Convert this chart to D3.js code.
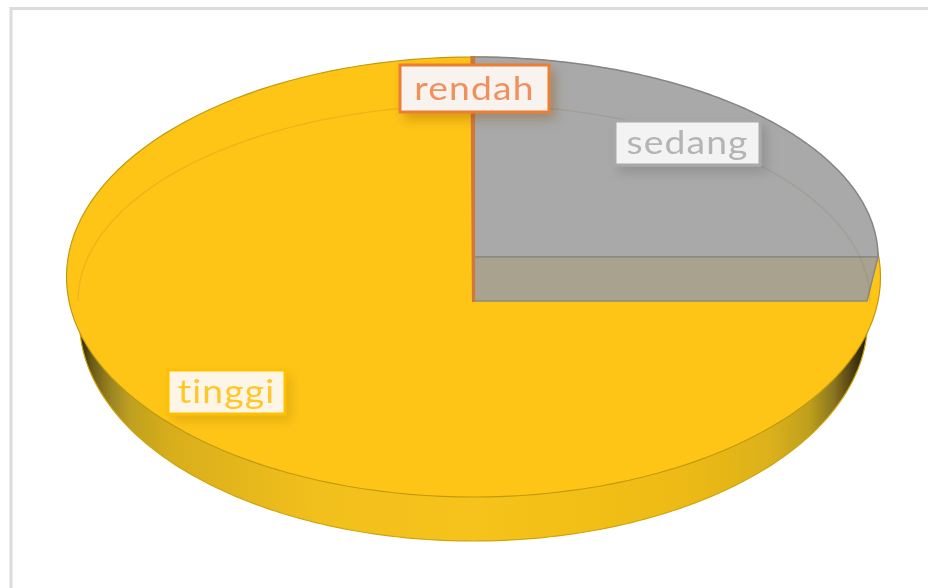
<!DOCTYPE html>
<html><head><meta charset="utf-8">
<script src="https://cdnjs.cloudflare.com/ajax/libs/d3/7.8.5/d3.min.js"></script>
<style>html,body{margin:0;padding:0;background:#fff;overflow:hidden}svg{display:block}</style>
</head><body><svg id="c" width="928" height="588"></svg>
<script>
const categories = ["sedang", "tinggi", "rendah"];
const values = [25, 74.9, 0.1];
const sliceColors = ["#a9a9a9", "#ffc517", "#d0783a"];
const labelBorders = ["#a9a9a9", "#ffc000", "#ed7d31"];
const labelFills = ["#f3f3f3", "#fdf6e6", "#f8f3ef"];
const labelTexts = ["#b4b4b4", "#ffc72c", "#f0905c"];
const labelBoxes = [[615,121,145,44],[168,370,117,44],[400,65,149,47]];

const W = 928, H = 588;
const svg = d3.select("#c");
const defs = svg.append("defs");

const slices = d3.pie().sort(null).value(d => d)(values);
const angle = d3.scaleLinear().domain([0, 1]);
const line = d3.line();

// Elliptical footprints of the tilted disc
const rim    = {cx:473.5, cy:277, rx:407, ry:220};
const upper  = {cx:474,   cy:257, rx:404, ry:200};
const lower  = {cx:474,   cy:301, rx:393, ry:196};
const ground = {cx:473.5, cy:321, rx:394, ry:220};

const pt = (e, a) => [e.cx + e.rx * Math.sin(a), e.cy - e.ry * Math.cos(a)];
const arcPts = (e, a0, a1) => {
  angle.range([a0, a1]);
  return d3.range(0, 1.0001, 1/160).map(t => pt(e, angle(t)));
};
const full = Math.PI * 2;

// Card frame
svg.append("rect").attr("x",11).attr("y",8.5).attr("width",W).attr("height",H).attr("fill","#fff")
   .attr("stroke","#dcdcdc").attr("stroke-width",3);

// Filters
const shadow = (id, color, op) => {
  const f = defs.append("filter").attr("id",id).attr("x","-20%").attr("y","-40%").attr("width","150%").attr("height","190%");
  f.append("feDropShadow").attr("dx",5).attr("dy",6).attr("stdDeviation",6)
   .attr("flood-color",color).attr("flood-opacity",op);
};
shadow("sh0","#000",.14); shadow("sh1","#a07800",.28); shadow("sh2","#7a4a10",.32);
defs.append("filter").attr("id","soft").append("feGaussianBlur").attr("stdDeviation",.6);

// Wall gradient
const grad = defs.append("linearGradient").attr("id","wall")
  .attr("gradientUnits","userSpaceOnUse").attr("x1",79).attr("x2",868).attr("y1",0).attr("y2",0);
[[0,"#241c06"],[.016,"#6b5a18"],[.04,"#9a8420"],[.065,"#bfa020"],[.115,"#d8ae1c"],[.3,"#f2c01a"],[.5,"#f6c31a"],
 [.76,"#eebb18"],[.875,"#dcb11a"],[.925,"#bfa01e"],[.957,"#8a7420"],[.982,"#4a3c10"],[1,"#1e1806"]]
 .forEach(([o,c]) => grad.append("stop").attr("offset",o).attr("stop-color",c));

const g = svg.append("g").attr("filter","url(#soft)");

// Side wall: lower half of the ground ellipse
g.append("path")
  .attr("d", line(arcPts(ground, Math.PI/2, Math.PI*1.5)) + "Z")
  .attr("fill","url(#wall)").attr("stroke","#cfa40e").attr("stroke-width",1.2);

// Full top disc
g.append("path").attr("d", line(arcPts(rim, 0, full)) + "Z")
  .attr("fill", sliceColors[1]).attr("stroke","#c09a10").attr("stroke-width",1.2);

// sedang: top face and translucent front face
const s = slices[0];
const sedangTop = [[upper.cx, upper.cy], ...arcPts(upper, s.startAngle, s.endAngle)];
g.append("path").attr("d", line(sedangTop) + "Z")
  .attr("fill", sliceColors[0]).attr("stroke","#858585").attr("stroke-width",1.5);
const front = [pt(upper, s.endAngle), pt(lower, s.endAngle), [lower.cx, lower.cy], [upper.cx, upper.cy]];
g.append("path").attr("d", line(front) + "Z")
  .attr("fill","#a8a28f").attr("stroke","#8a8a82").attr("stroke-width",1.5);

// Seen-through far edge of the disc
g.append("path").attr("d", line(arcPts({...lower, rx:396}, -Math.PI/2, Math.PI/2)))
  .attr("fill","none").attr("stroke","#7a6a30").attr("stroke-opacity",.16).attr("stroke-width",1.4);

// rendah: thin sliver
const r = slices[2];
g.append("path").attr("d", line([[lower.cx-1, lower.cy], pt(upper, r.startAngle), pt(upper, r.endAngle), [lower.cx, lower.cy]]) + "Z")
  .attr("fill", sliceColors[2]).attr("stroke", sliceColors[2]).attr("stroke-width",2.2);

// Labels
const hScale = 1.13;
categories.forEach((c, i) => {
  const b = labelBoxes[i];
  svg.append("rect").attr("x",b[0]).attr("y",b[1]).attr("width",b[2]).attr("height",b[3])
    .attr("fill",labelFills[i]).attr("stroke",labelBorders[i]).attr("stroke-width",3)
    .attr("filter",`url(#sh${i})`);
  svg.append("text")
    .attr("transform",`translate(${b[0]+b[2]/2},${b[1]+b[3]/2+11}) scale(${hScale},1)`)
    .attr("text-anchor","middle").attr("font-family","Lato, 'Open Sans', sans-serif")
    .attr("font-size",33).attr("letter-spacing",1)
    .attr("fill",labelTexts[i]).attr("filter","url(#soft)").text(c);
});
</script></body></html>
